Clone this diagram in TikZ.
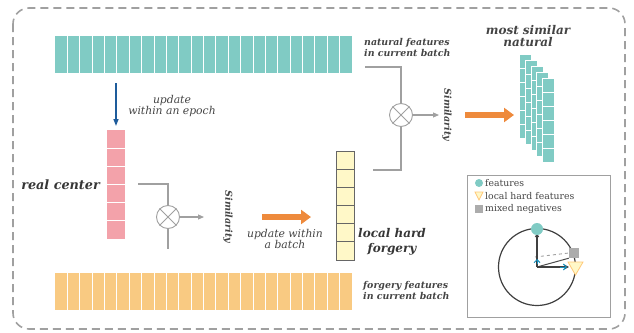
\documentclass[tikz,border=0pt]{standalone}
\usepackage{fontspec}
\setmainfont{DejaVu Serif}
\usetikzlibrary{arrows.meta}
\definecolor{tealc}{HTML}{80CBC4}
\definecolor{pinkc}{HTML}{F3A2AA}
\definecolor{yelc}{HTML}{FFF8C8}
\definecolor{orbar}{HTML}{F9CA82}
\definecolor{orarr}{HTML}{EE8A3C}
\definecolor{bluec}{HTML}{1E5C9B}
\definecolor{grayl}{HTML}{A0A0A0}
\definecolor{txtc}{HTML}{444444}
\tikzset{
  bar/.style={inner sep=0pt, anchor=north west, minimum width=297pt, minimum height=37pt},
  col/.style={inner sep=0pt, anchor=north west, minimum width=18pt},
  xcirc/.style={circle, draw=grayl, line width=0.9pt, minimum size=23pt, inner sep=0pt},
  conn/.style={draw=grayl, line width=1.1pt},
  simlab/.style={rotate=-90, font=\fontsize{9.5}{11}\selectfont\bfseries\itshape, text=txtc, inner sep=0pt},
  lab/.style={font=\fontsize{9.4}{11}\selectfont\bfseries\itshape, text=txtc, inner sep=0pt, align=left},
  biglab/.style={font=\fontsize{12}{15}\selectfont\bfseries\itshape, text=txtc!80!black, inner sep=0pt},
  itlab/.style={font=\fontsize{10.8}{11}\selectfont\itshape, text=txtc, inner sep=0pt, align=center},
  bigarrow/.style={draw=orarr, line width=6pt, -{Triangle[length=10pt,width=14pt]}},
  leg/.style={font=\fontsize{9.3}{10}\selectfont, text=txtc, inner sep=0pt, anchor=west},
}
\begin{document}
\begin{tikzpicture}[x=1pt,y=-1pt]
\useasboundingbox (0,0) rectangle (634,332);
% outer dashed frame
\draw[grayl, line width=1.6pt, dash pattern=on 8pt off 5pt, rounded corners=16pt] (13,8) rectangle (625,329);

% natural features bar
\node[bar, fill=tealc] (natbar) at (55,36) {};
\foreach \i in {1,...,23} \draw[white, line width=1pt] ({55+\i*12.375},36) -- ++(0,37);
\node[lab, anchor=west] (natlab) at (364,47.5) {natural features\\in current batch};

% forgery features bar
\node[bar, fill=orbar] (forbar) at (55,273) {};
\foreach \i in {1,...,23} \draw[white, line width=1pt] ({55+\i*12.375},273) -- ++(0,37);
\node[lab, anchor=west] (forlab) at (363,290) {forgery features\\in current batch};

% real center column
\node[col, fill=pinkc, minimum height=109pt] (real) at (107,130) {};
\foreach \i in {1,...,5} \draw[white, line width=0.9pt] (107,{130+\i*18.17}) -- ++(18,0);
\node[biglab, anchor=east, font=\fontsize{12.8}{15}\selectfont\bfseries\itshape] (reallab) at (100,185) {real center};

% update within an epoch
\draw[bluec, line width=1.5pt, -{Triangle[length=7pt,width=5pt]}] (116,83) -- (116,126);
\node[itlab] (epochlab) at (172,106) {update\\within an epoch};

% first similarity
\node[xcirc] (x1) at (168,217) {};
\draw[grayl, line width=0.9pt] (x1.north east) -- (x1.south west) (x1.north west) -- (x1.south east);
\coordinate (r1) at (138,184);
\coordinate (b1) at (168,249);
\draw[conn] (r1) -| (x1.north);
\draw[conn] (x1.south) -- (b1);
\node[simlab] (sim1) at (228,217) {Similarity};
\draw[conn, -{Triangle[length=6pt,width=5pt]}] (x1.east) -- (204,217);

% update within a batch
\draw[bigarrow] (262,217) -- (311,217);
\node[itlab] (batchlab) at (285,238.5) {update within\\a batch};

% local hard forgery column
\node[col, fill=yelc, draw=gray!80!black, line width=0.8pt, minimum height=109pt] (hard) at (336,151) {};
\foreach \i in {1,...,5} \draw[gray!80!black, line width=0.8pt] (336,{151+\i*18.17}) -- ++(18,0);
\node[biglab, align=center] (hardlab) at (392,242) {local hard\\forgery};

% second similarity
\node[xcirc] (x2) at (401,115) {};
\draw[grayl, line width=0.9pt] (x2.north east) -- (x2.south west) (x2.north west) -- (x2.south east);
\coordinate (n2) at (365,67);
\coordinate (h2) at (373,170);
\draw[conn] (n2) -| (x2.north);
\draw[conn] (x2.south) |- (h2);
\draw[conn, -{Triangle[length=6pt,width=5pt]}] (x2.east) -- (439,115);
\node[simlab] (sim2) at (447,115) {Similarity};

\draw[bigarrow] (465,115) -- (514,115);

% most similar natural stack
\foreach \k in {0,...,4} {
  \node[col, minimum width=12pt, minimum height=84pt, fill=tealc, draw=white, line width=0.8pt] (s\k) at ({519+5.75*\k},{54+6*\k}) {};
  \foreach \j in {1,...,5} \draw[white, line width=0.8pt] ({519+5.75*\k},{54+6*\k+\j*14}) -- ++(12,0);
}
\node[font=\fontsize{12}{12}\selectfont\bfseries\itshape, text=txtc, inner sep=0pt, align=center] (mostlab) at (528,36) {most similar\\natural};

% legend box
\node[draw=grayl, line width=0.9pt, minimum width=143pt, minimum height=142pt, inner sep=0pt, anchor=north west] (legbox) at (467,175) {};
\node[circle, fill=tealc, minimum size=8pt, inner sep=0pt] (lc) at (479,183) {};
\node[leg] (lct) at (485,183) {features};
\draw[draw=yelc!60!orange, fill=yelc, line width=0.8pt] (475,192) -- (483,192) -- (479,200) -- cycle;
\coordinate (lt) at (479,196);
\node[leg] (ltt) at (485,196) {local hard features};
\node[fill=gray!65, minimum size=8pt, inner sep=0pt] (ls) at (479,208.5) {};
\node[leg] (lst) at (485,208.5) {mixed negatives};

% circle diagram
\coordinate (o) at (537,267);
\draw[gray!50!black, line width=1.2pt] (o) circle (38.5pt);
\node[fill=gray!65, minimum size=10pt, inner sep=0pt] (sq) at (574,253) {};
\coordinate (tri) at (575,266);
\draw[grayl, dashed, line width=0.9pt] (535,257) -- (sq.west);
\draw[gray!60!black, line width=1pt] (o) -- (sq.south west);
\draw[gray!50!black, line width=1.2pt, -{Triangle[length=4pt,width=4pt]}] (o) -- (537,233);
\draw[gray!50!black, line width=1.2pt, -{Triangle[length=4pt,width=4pt]}] (o) -- (569,267);
\draw[draw=yelc!60!orange, fill=yelc, line width=0.8pt] (568,262) -- (583,262) -- (575.5,275) -- cycle;
\node[circle, fill=tealc, minimum size=12pt, inner sep=0pt] (top) at (537,229) {};
\draw[bluec!70!cyan, line width=1pt, -{Straight Barb[length=3pt,width=6pt]}] (537,264) -- (537,259);
\draw[bluec!70!cyan, line width=1pt, -{Straight Barb[length=3pt,width=6pt]}] (560,267) -- (567,267);
\end{tikzpicture}
\end{document}
